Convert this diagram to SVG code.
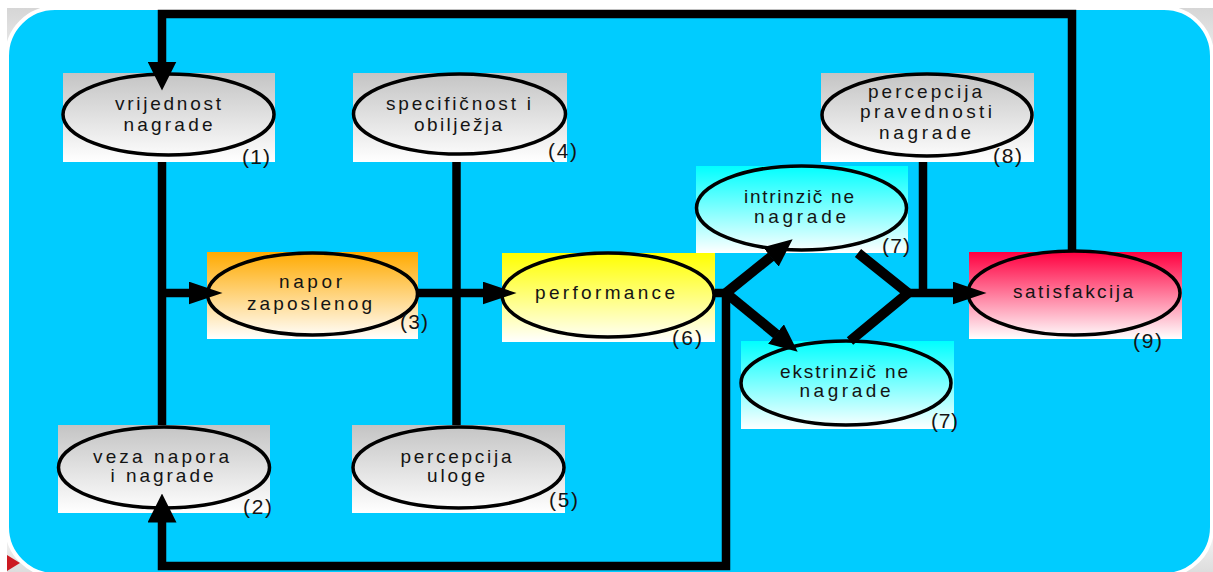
<svg xmlns="http://www.w3.org/2000/svg" width="1213" height="572" viewBox="0 0 1213 572">
<defs>
<linearGradient id="gBg" x1="0" y1="0" x2="0" y2="1">
<stop offset="0" stop-color="#d6d6d6"/><stop offset="0.12" stop-color="#f4f4f4"/><stop offset="0.9" stop-color="#ffffff"/><stop offset="1" stop-color="#dddddd"/>
</linearGradient>
<linearGradient id="gGrey" x1="0" y1="0" x2="0" y2="1"><stop offset="0" stop-color="#c4c4c4"/><stop offset="1" stop-color="#ffffff"/></linearGradient>
<linearGradient id="gOrange" x1="0" y1="0" x2="0" y2="1"><stop offset="0" stop-color="#ffaa00"/><stop offset="1" stop-color="#ffffff"/></linearGradient>
<linearGradient id="gYellow" x1="0" y1="0" x2="0" y2="1"><stop offset="0" stop-color="#ffff00"/><stop offset="1" stop-color="#ffffff"/></linearGradient>
<linearGradient id="gCyan" x1="0" y1="0" x2="0" y2="1"><stop offset="0" stop-color="#00ffff"/><stop offset="1" stop-color="#ffffff"/></linearGradient>
<linearGradient id="gRed" x1="0" y1="0" x2="0" y2="1"><stop offset="0" stop-color="#ff0040"/><stop offset="1" stop-color="#ffffff"/></linearGradient>
<marker id="arrH" markerUnits="userSpaceOnUse" viewBox="0 0 34 23" markerWidth="34" markerHeight="23" refX="0.5" refY="11.5" orient="auto">
<path d="M0,0 L34,11.5 L0,23 Z" fill="#000"/>
</marker>
<marker id="arrV" markerUnits="userSpaceOnUse" viewBox="0 0 29 29" markerWidth="29" markerHeight="29" refX="0.5" refY="14.5" orient="auto">
<path d="M0,0 L29,14.5 L0,29 Z" fill="#000"/>
</marker>
<marker id="arrD" markerUnits="userSpaceOnUse" viewBox="0 0 28 25" markerWidth="28" markerHeight="25" refX="0.5" refY="12.5" orient="auto">
<path d="M0,0 L28,12.5 L0,25 Z" fill="#000"/>
</marker>
</defs>
<style>
.ell{fill:none;stroke:#000;stroke-width:3.5}
.lbl{font-family:"Liberation Sans",Arial,sans-serif;font-size:19px;fill:#141414;text-anchor:middle}
.num{font-family:"Liberation Sans",Arial,sans-serif;font-size:21px;fill:#141414}
.wire{fill:none;stroke:#000;stroke-width:8.5;stroke-linejoin:miter;stroke-linecap:butt}
.diag{stroke-width:10}
</style>
<rect x="0" y="0" width="1213" height="572" fill="#ffffff"/>
<rect x="7" y="8" width="1206" height="564" fill="url(#gBg)"/>
<rect x="7" y="8" width="1205" height="567" rx="48" ry="48" fill="#00ccff" stroke="#ffffff" stroke-width="4"/>
<path d="M7,555 L20,563 L7,571 Z" fill="#cc1a22"/>

<g id="node-1">
<rect x="63" y="73" width="212" height="89" fill="url(#gGrey)"/>
<ellipse class="ell" cx="168.5" cy="114.5" rx="105.5" ry="40.5"/>
<text class="lbl" x="168" y="110" textLength="106" lengthAdjust="spacing">vrijednost</text>
<text class="lbl" x="168" y="131" textLength="89" lengthAdjust="spacing">nagrade</text>
<text class="num" x="242" y="164" textLength="28" lengthAdjust="spacing">(1)</text>
</g>
<g id="node-2">
<rect x="58" y="425" width="212" height="88" fill="url(#gGrey)"/>
<ellipse class="ell" cx="164" cy="467.5" rx="105.5" ry="40.5"/>
<text class="lbl" x="161" y="463" textLength="136" lengthAdjust="spacing">veza napora</text>
<text class="lbl" x="162" y="482" textLength="103" lengthAdjust="spacing">i nagrade</text>
<text class="num" x="243" y="514" textLength="29" lengthAdjust="spacing">(2)</text>
</g>
<g id="node-3">
<rect x="207" y="252" width="211" height="87" fill="url(#gOrange)"/>
<ellipse class="ell" cx="312.5" cy="294" rx="105" ry="41"/>
<text class="lbl" x="310.5" y="288" textLength="63" lengthAdjust="spacing">napor</text>
<text class="lbl" x="309.5" y="310" textLength="125" lengthAdjust="spacing">zaposlenog</text>
<text class="num" x="400" y="329" textLength="28" lengthAdjust="spacing">(3)</text>
</g>
<g id="node-4">
<rect x="353" y="73" width="214" height="89" fill="url(#gGrey)"/>
<ellipse class="ell" cx="459.5" cy="114" rx="106" ry="40"/>
<text class="lbl" x="458.5" y="110" textLength="145" lengthAdjust="spacing">specifičnost i</text>
<text class="lbl" x="458" y="131" textLength="88" lengthAdjust="spacing">obilježja</text>
<text class="num" x="548" y="158" textLength="29" lengthAdjust="spacing">(4)</text>
</g>
<g id="node-5">
<rect x="352" y="425" width="213" height="88" fill="url(#gGrey)"/>
<ellipse class="ell" cx="458.5" cy="467.5" rx="105.5" ry="40.5"/>
<text class="lbl" x="456" y="463" textLength="111" lengthAdjust="spacing">percepcija</text>
<text class="lbl" x="456" y="482" textLength="58" lengthAdjust="spacing">uloge</text>
<text class="num" x="549" y="507" textLength="29" lengthAdjust="spacing">(5)</text>
</g>
<g id="node-6">
<rect x="502" y="253" width="213" height="89" fill="url(#gYellow)"/>
<ellipse class="ell" cx="608" cy="295" rx="106" ry="42"/>
<text class="lbl" x="605" y="299" textLength="140" lengthAdjust="spacing">performance</text>
<text class="num" x="672" y="345" textLength="30" lengthAdjust="spacing">(6)</text>
</g>
<g id="node-7a">
<rect x="696" y="166" width="212" height="87" fill="url(#gCyan)"/>
<ellipse class="ell" cx="801.5" cy="208" rx="105" ry="42"/>
<text class="lbl" x="799" y="203" textLength="110" lengthAdjust="spacing">intrinzič ne</text>
<text class="lbl" x="800" y="223" textLength="92" lengthAdjust="spacing">nagrade</text>
<text class="num" x="882" y="253" textLength="28" lengthAdjust="spacing">(7)</text>
</g>
<g id="node-7b">
<rect x="741" y="341" width="213" height="88" fill="url(#gCyan)"/>
<ellipse class="ell" cx="846" cy="383" rx="105" ry="42"/>
<text class="lbl" x="844" y="378" textLength="128" lengthAdjust="spacing">ekstrinzič ne</text>
<text class="lbl" x="845" y="397" textLength="91" lengthAdjust="spacing">nagrade</text>
<text class="num" x="931" y="428" textLength="27" lengthAdjust="spacing">(7)</text>
</g>
<g id="node-8">
<rect x="821" y="73" width="213" height="89" fill="url(#gGrey)"/>
<ellipse class="ell" cx="927" cy="115" rx="105" ry="41"/>
<text class="lbl" x="925" y="98" textLength="114" lengthAdjust="spacing">percepcija</text>
<text class="lbl" x="926" y="118" textLength="132" lengthAdjust="spacing">pravednosti</text>
<text class="lbl" x="925" y="139" textLength="92" lengthAdjust="spacing">nagrade</text>
<text class="num" x="993" y="163" textLength="29" lengthAdjust="spacing">(8)</text>
</g>
<g id="node-9">
<rect x="969" y="252" width="213" height="87" fill="url(#gRed)"/>
<ellipse class="ell" cx="1074" cy="293" rx="106" ry="42"/>
<text class="lbl" x="1073" y="298" textLength="120" lengthAdjust="spacing">satisfakcija</text>
<text class="num" x="1133" y="348" textLength="29" lengthAdjust="spacing">(9)</text>
</g>

<g id="connectors">
<path class="wire" d="M1072,252 V14 H162 V62" marker-end="url(#arrV)"/>
<path class="wire" d="M162,162 V425"/>
<path class="wire" d="M162,293 H189" marker-end="url(#arrH)"/>
<path class="wire" d="M456.5,162 V425"/>
<path class="wire" d="M418,293 H483" marker-end="url(#arrH)"/>
<path class="wire" d="M715,293 H726 V566 H162 V522" marker-end="url(#arrV)"/>
<path class="wire diag" d="M726,293 L771.2,256.6" marker-end="url(#arrD)"/>
<path class="wire diag" d="M726,293 L776.4,334.3" marker-end="url(#arrD)"/>
<path class="wire diag" d="M858,253 L908,293 L850,341"/>
<path class="wire" d="M923,162 V293"/>
<path class="wire" d="M908,293 H953" marker-end="url(#arrH)"/>
</g>
</svg>
